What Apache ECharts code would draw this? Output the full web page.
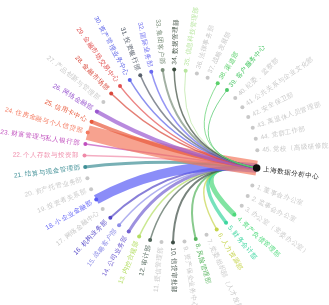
<!DOCTYPE html>
<html><head><meta charset="utf-8">
<script src="https://cdn.jsdelivr.net/npm/echarts@6/dist/echarts.min.js"></script>
<style>html,body{margin:0;padding:0;background:#fff}#c{width:329px;height:305px}</style>
</head><body><div id="c"></div>
<script>
const centerName = '上海数据分析中心';
const deptNames = [
  '董事会办公室','监事会办公室','办公室（党委办公室）','资产负债管理部','财务会计部',
  '人力资源部','党委组织部（人才发展部）','风险管理部','资产保全业务中心','信贷审批部',
  '授信管理部','审计部','内控合规部','公司业务部','战略客户部',
  '机构业务部','网络金融中心','小企业金融部','投资者关系部','资产托管业务部',
  '结算与现金管理部','个人存款与投资部','财富管理与私人银行部','住房金融与个人信贷部','信用卡中心',
  '网络金融部','产品创新与管理部','金融市场部','金融市场交易中心','资产管理业务中心',
  '投资银行部','国际业务部','集团客户部','数据管理部','信息科技管理部',
  '法律事务部','战略发展部','渠道部','客户服务中心','纪委、监察部',
  '公共关系与企业文化部','安全保卫部','离退休人员管理部','党群工作部','党校（高级研修院）'
];
const G = '#c8c8c8';
const deptColors = [
  G, G, G, '#4cd97a', '#3dd6a0',
  '#c6d44c', G, '#55b45c', G, '#3f4e46',
  G, '#51665a', '#b3de62', '#7462d2', '#8e8ee8',
  '#5548c8', G, '#5a5cf5', G, G,
  '#3f8f96', '#ef8aa8', '#c04fbe', '#f47a60', '#e85a3c',
  '#9a58d0', G, '#d9483b', '#e25050', '#5b62e8',
  '#58606c', '#6a6af0', '#7b8f7b', '#3d4d3f', '#b8e6a0',
  G, G, '#5bd06b', '#4cc868', G,
  G, G, G, G, G
];
const linkValues = [
  0, 0, 0, 5, 3.5,
  1.5, 0, 2, 0, 2,
  0, 1.5, 1.5, 3, 1.5,
  2, 0, 9.5, 0, 0,
  3, 1.5, 1.5, 15, 4,
  4, 0, 1.5, 1.5, 1.5,
  1.5, 1.5, 2, 1.5, 1,
  0, 0, 1, 1, 0,
  0, 0, 0, 0, 0
];

const nodes = [{
  name: centerName,
  // dot drawn in the middle of a larger (invisible) symbol box
  symbol: 'path://M-1.225,-1.225M3.225,3.225M0,1A1,1 0 1,0 2,1A1,1 0 1,0 0,1Z',
  symbolSize: 16.7,
  itemStyle: { color: '#111' },
  label: { color: '#222', distance: -1.5 }
}];
deptNames.forEach((n, i) => {
  nodes.push({
    name: n,
    symbolSize: 4,
    itemStyle: { color: deptColors[i] },
    label: { color: deptColors[i] }
  });
});
const links = [];
deptNames.forEach((n, i) => {
  if (linkValues[i] > 0) {
    links.push({ source: centerName, target: n, value: linkValues[i],
      lineStyle: { width: linkValues[i], color: deptColors[i] } });
  }
});

const chart = echarts.init(document.getElementById('c'), null, { renderer: 'canvas' });
chart.setOption({
  animation: false,
  series: [{
    type: 'graph',
    layout: 'circular',
    circular: { rotateLabel: true },
    left: 84.5, top: 69.5, width: 173, height: 173,
    data: nodes,
    links: links,
    label: {
      show: true, position: 'right', fontSize: 6.5, distance: 3,
      formatter: p => p.dataIndex === 0 ? p.name : p.dataIndex + '. ' + p.name
    },
    lineStyle: { curveness: 0.3, opacity: 0.7 },
    emphasis: { disabled: true }
  }]
});
</script>
</body></html>
